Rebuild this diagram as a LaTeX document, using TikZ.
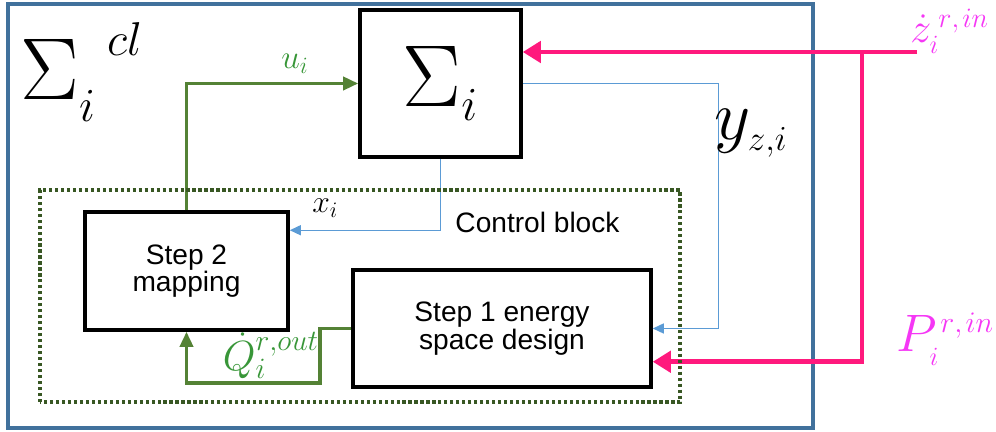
\documentclass[tikz,border=0pt]{standalone}
\usepackage{fix-cm}
\usepackage{fontspec}
\setmainfont{Liberation Sans}
\usetikzlibrary{arrows.meta,calc}
\definecolor{frameblue}{RGB}{65,113,156}
\definecolor{sigblue}{RGB}{91,155,213}
\definecolor{ctrlgreen}{RGB}{84,130,53}
\definecolor{lblgreen}{RGB}{56,150,56}
\definecolor{dotgreen}{RGB}{56,87,35}
\definecolor{refpink}{RGB}{255,25,125}
\definecolor{refmag}{RGB}{245,55,245}
\newcommand{\symsz}[2]{\hbox{\fontsize{#1}{#1}\selectfont$#2$}}
\tikzset{
  block/.style={draw,line width=2pt,align=center,inner sep=0pt,
    font=\fontsize{16}{15.5}\selectfont},
  ctrlline/.style={ctrlgreen,line width=2pt,-{Triangle[length=0.3cm,width=0.26cm]}},
  measline/.style={sigblue,line width=0.8pt,-{Triangle[length=0.22cm,width=0.2cm]}},
  refline/.style={refpink,line width=2.6pt,-{Triangle[length=0.36cm,width=0.42cm]}},
  sym/.style={inner sep=0pt,anchor=base west}
}
\begin{document}
\begin{tikzpicture}[x=1cm,y=1cm]
\useasboundingbox (0,0) rectangle (19.92,8.64);
% closed loop frame
\draw[frameblue,line width=1.8pt] (0.16,0.08) rectangle (16.26,8.56);
\node[sym,font=\fontsize{50}{60}\selectfont] (cl) at (0.4,6.64)
  {$\Sigma_{\symsz{27}{i}}^{\kern16pt\raisebox{7pt}{\symsz{27}{cl}}}$};
% blocks
\node[block,minimum width=3.22cm,minimum height=2.94cm,
  font=\fontsize{50}{60}\selectfont] (sys) at (8.81,6.97) {$\Sigma_{\symsz{27}{i}}$};
\node[block,minimum width=4.06cm,minimum height=2.36cm] (step2) at (3.73,3.22) {Step 2\\mapping};
\node[block,minimum width=5.96cm,minimum height=2.34cm] (step1) at (10.04,2.07) {Step 1 energy\\space design};
\node[font=\fontsize{16}{18}\selectfont] (ctrl) at (10.75,4.2) {Control block};
% control input
\draw[ctrlline] (step2.north) |- (sys.west);
\node[sym,text=lblgreen,font=\fontsize{19}{22}\selectfont] (ulbl) at (5.62,7.26) {$u_i$};
% measured signals
\draw[measline] (sys.south) |- ([yshift=-0.4cm]step2.north east);
\node[sym,font=\fontsize{18}{20}\selectfont] (xlbl) at (6.24,4.38) {$x_i$};
\draw[measline] (sys.east) -| ($(step1.east)+(1.32,0)$) -- (step1.east);
\node[sym,font=\fontsize{40}{48}\selectfont] (ylbl) at (14.28,5.84)
  {$y_{\scriptscriptstyle z,i}$};
% reference inputs
\coordinate (zin) at (18.34,7.6);
\coordinate (jn) at (17.24,7.6);
\draw[refline] (zin) -- (sys.east |- zin);
\draw[refline] (jn) |- ($(step1.south east)+(0,0.54)$);
\node[sym,text=refmag,font=\fontsize{24}{28}\selectfont] (zlbl) at (18.2,7.78)
  {$\dot z_{\symsz{15}{i}}^{\kern4pt\symsz{16}{r{,}\mkern2mu in}}$};
\node[sym,text=refmag,font=\fontsize{30}{36}\selectfont] (plbl) at (17.92,1.6)
  {$P_{\symsz{15}{i}}^{\kern2pt\symsz{17}{r{,}\mkern2mu in}}$};
% energy reference
\coordinate (qa) at (6.4,0.98);
\draw[ctrlline] (step1.west) -| (qa) -| (step2.south);
\node[sym,text=lblgreen,font=\fontsize{24}{28}\selectfont] (qlbl) at (4.45,1.22)
  {$\dot Q_i^{r{,}out}$};
% control block
\draw[dotgreen,line width=2pt,dash pattern=on 1.8pt off 1.6pt] (0.8,0.6) rectangle (13.6,4.84);
\end{tikzpicture}
\end{document}
